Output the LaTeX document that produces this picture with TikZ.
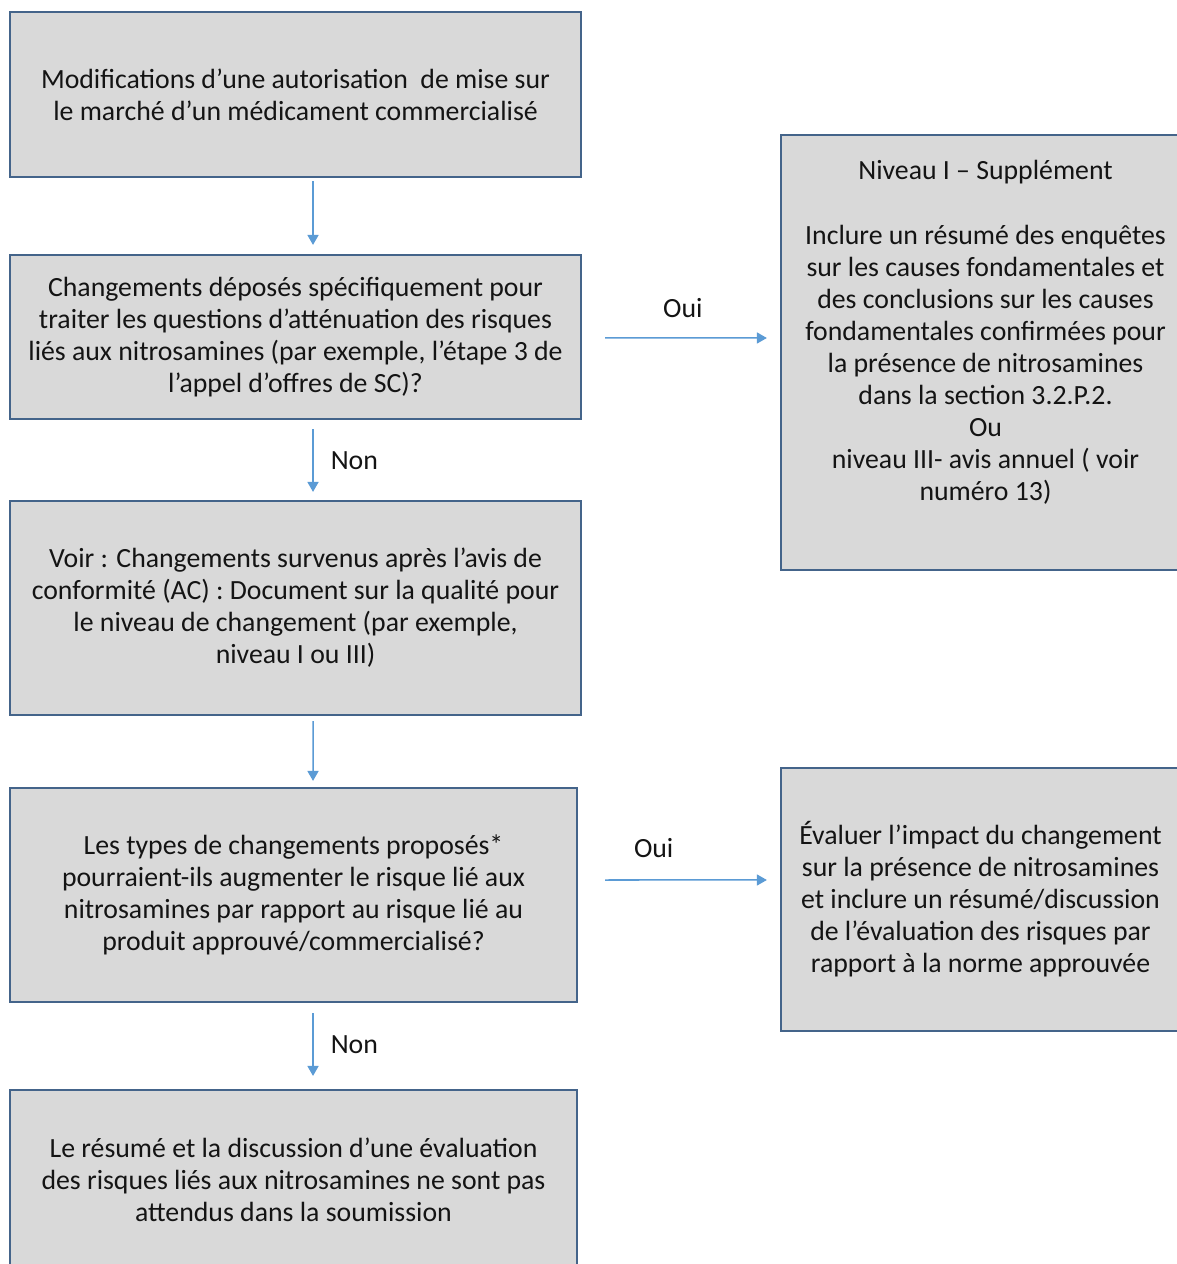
\documentclass[tikz,border=0pt]{standalone}
\usepackage{fontspec}
\setmainfont{Carlito}
\usepackage{tikz}
\usepackage{xcolor}
\usetikzlibrary{positioning}
\usetikzlibrary{calc}
\usetikzlibrary{arrows.meta}
\definecolor{boxfill}{RGB}{217, 217, 217}
\definecolor{boxline}{RGB}{68, 100, 138}
\definecolor{flowline}{RGB}{91, 155, 213}
\definecolor{textcol}{RGB}{20, 20, 20}
\tikzstyle{stepbox} = [
	draw=boxline,
	line width=0.02cm,
	fill=boxfill,
	align=center,
	text=textcol,
	inner sep=0pt,
]
\tikzstyle{flow} = [
	draw=flowline,
	line width=0.015cm,
	-{Triangle[length=0.1cm, width=0.11cm]},
]
\tikzstyle{answer} = [
	text=textcol,
	inner sep=0pt,
]
\begin{document}
\begin{tikzpicture}[x=0.01cm, y=-0.01cm, font=\fontsize{7.9pt}{9.1pt}\selectfont]

	\fill[white] (0,0) rectangle (1176,1264);
	\useasboundingbox (0,0) rectangle (1176,1264);

	%
	% Left column
	\node[stepbox, minimum width=5.71cm, minimum height=1.65cm] (modif) at (295.5,94.5) {Modifications d’une autorisation\ \ de mise sur\\le marché d’un médicament commercialisé};
	\node[stepbox, minimum width=5.71cm, minimum height=1.64cm] (depose) at (295.5,337) {Changements déposés spécifiquement pour\\traiter les questions d’atténuation des risques\\liés aux nitrosamines (par exemple, l’étape 3 de\\l’appel d’offres de SC)?};
	\node[stepbox, minimum width=5.71cm, minimum height=2.14cm] (voir) at (295.5,608) {Voir : Changements survenus après l’avis de\\conformité (AC) : Document sur la qualité pour\\le niveau de changement (par exemple,\\niveau I ou III)};
	\node[stepbox, minimum width=5.67cm, minimum height=2.14cm] (types) at (293.5,895) {Les types de changements proposés*\\pourraient-ils augmenter le risque lié aux\\nitrosamines par rapport au risque lié au\\produit approuvé/commercialisé?};
	\node[stepbox, minimum width=5.67cm, minimum height=1.8cm] (resume) at (293.5,1180) {Le résumé et la discussion d’une évaluation\\des risques liés aux nitrosamines ne sont pas\\attendus dans la soumission};

	%
	% Right column
	\node[stepbox, minimum width=4.09cm, minimum height=4.35cm] (niveau) at (985.5,352.5) {};
	\node[answer, align=center] (niveautxt) at ([yshift=0.2cm]niveau.center) {Niveau I – Supplément\\[9.4pt]Inclure un résumé des enquêtes\\sur les causes fondamentales et\\des conclusions sur les causes\\fondamentales confirmées pour\\la présence de nitrosamines\\dans la section 3.2.P.2.\\Ou\\niveau III- avis annuel ( voir\\numéro 13)};
	\node[stepbox, minimum width=3.99cm, minimum height=2.63cm] (evaluer) at (980.5,899.5) {Évaluer l’impact du changement\\sur la présence de nitrosamines\\et inclure un résumé/discussion\\de l’évaluation des risques par\\rapport à la norme approuvée};

	%
	% Arrows
	\draw[flow] ([xshift=0.175cm, yshift=-0.03cm]modif.south) -- ([xshift=0.175cm, yshift=0.09cm]depose.north);
	\draw[flow] ([xshift=0.175cm, yshift=-0.09cm]depose.south) -- ([xshift=0.175cm, yshift=0.08cm]voir.north)
		node[answer, midway, right=0.17cm] (non1) {Non};
	\draw[flow] ([xshift=0.175cm, yshift=-0.05cm]voir.south) -- ([xshift=0.195cm, yshift=0.06cm]types.north);
	\draw[flow] ([xshift=0.195cm, yshift=-0.1cm]types.south) -- ([xshift=0.195cm, yshift=0.13cm]resume.north)
		node[answer, midway, right=0.17cm] (non2) {Non};

	\draw[flow] ([xshift=0.23cm, yshift=-0.01cm]depose.east) -- ([xshift=-0.13cm, yshift=0.145cm]niveau.west)
		node[answer, pos=0.48, above=0.2cm] (oui1) {Oui};
	\draw[flow] ([xshift=0.27cm, yshift=0.15cm]types.east) -- ([xshift=-0.13cm, yshift=0.195cm]evaluer.west)
		node[answer, pos=0.3, above=0.22cm] (oui2) {Oui};

\end{tikzpicture}
\end{document}
